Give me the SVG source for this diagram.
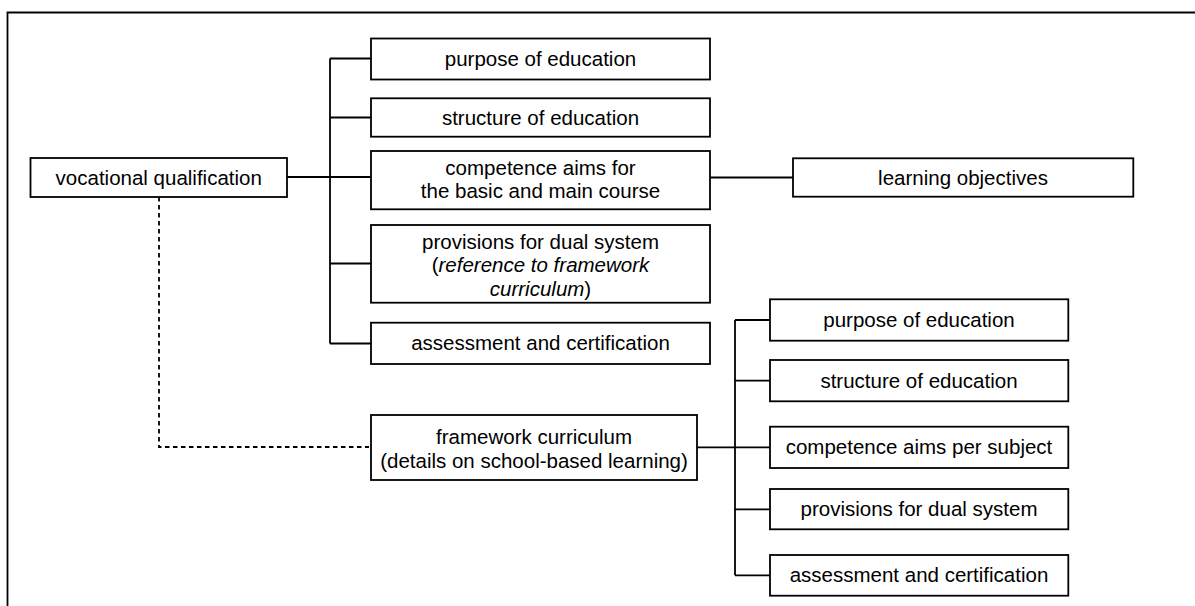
<svg xmlns="http://www.w3.org/2000/svg" width="1195" height="606" viewBox="0 0 1195 606">
<style>
.box{fill:#fff;stroke:#000;stroke-width:1.8}
.ln{fill:none;stroke:#000;stroke-width:1.8}
.dash{fill:none;stroke:#000;stroke-width:1.8;stroke-dasharray:4.5 3.5}
text{font-family:"Liberation Sans",Arial,sans-serif;font-size:20.5px;fill:#000;text-anchor:middle}
.it{font-style:italic}
</style>
<rect width="1195" height="606" fill="#fff"/>
<path class="ln" d="M7.5,606 V12.5 H1196"/>
<g id="connectors">
<path class="ln" d="M287,177 H371"/>
<path class="ln" d="M330,58.5 V343.5"/>
<path class="ln" d="M330,58.5 H371 M330,117.5 H371 M330,263.5 H371 M330,343.5 H371"/>
<path class="ln" d="M710,177.5 H793"/>
<path class="ln" d="M697,447.3 H770"/>
<path class="ln" d="M735,320 V575.3"/>
<path class="ln" d="M735,320 H770 M735,380.7 H770 M735,509.3 H770 M735,575.3 H770"/>
<path class="dash" d="M159,197 V447 H369"/>
</g>
<g id="vocational">
<rect class="box" x="30.5" y="158" width="256.5" height="39"/>
<text x="158.75" y="184.5">vocational qualification</text>
</g>
<g id="t-purpose">
<rect class="box" x="371" y="38.5" width="339" height="41"/>
<text x="540.5" y="65.5">purpose of education</text>
</g>
<g id="t-structure">
<rect class="box" x="371" y="98.3" width="339" height="38.4"/>
<text x="540.5" y="124.5">structure of education</text>
</g>
<g id="t-competence">
<rect class="box" x="371" y="151" width="339" height="58.3"/>
<text x="540.5" y="175">competence aims for</text>
<text x="540.5" y="198">the basic and main course</text>
</g>
<g id="t-provisions">
<rect class="box" x="371" y="225" width="339" height="77.7"/>
<text x="540.5" y="248.5">provisions for dual system</text>
<text x="540.5" y="272">(<tspan class="it">reference to framework</tspan></text>
<text x="540.5" y="296"><tspan class="it">curriculum</tspan>)</text>
</g>
<g id="t-assessment">
<rect class="box" x="371" y="322.7" width="339" height="41.3"/>
<text x="540.5" y="350">assessment and certification</text>
</g>
<g id="learning">
<rect class="box" x="793" y="158.3" width="340.3" height="38.4"/>
<text x="963" y="184.5">learning objectives</text>
</g>
<g id="framework">
<rect class="box" x="371" y="415" width="326" height="65"/>
<text x="534" y="444">framework curriculum</text>
<text x="534" y="468">(details on school-based learning)</text>
</g>
<g id="b-purpose">
<rect class="box" x="770" y="299.3" width="298.3" height="41.4"/>
<text x="919" y="327">purpose of education</text>
</g>
<g id="b-structure">
<rect class="box" x="770" y="360" width="298.3" height="41.3"/>
<text x="919" y="387.5">structure of education</text>
</g>
<g id="b-competence">
<rect class="box" x="770" y="426.7" width="298.3" height="41.3"/>
<text x="919" y="454">competence aims per subject</text>
</g>
<g id="b-provisions">
<rect class="box" x="770" y="489" width="298.3" height="40.3"/>
<text x="919" y="516">provisions for dual system</text>
</g>
<g id="b-assessment">
<rect class="box" x="770" y="555" width="298.3" height="40.7"/>
<text x="919" y="582">assessment and certification</text>
</g>
</svg>
